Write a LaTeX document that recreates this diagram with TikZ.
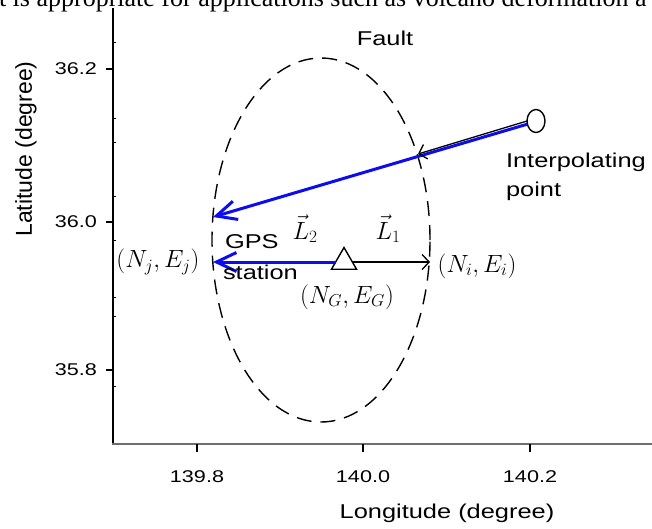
\documentclass[tikz,border=0pt]{standalone}
\usepackage{amsmath,amssymb}
\usepackage{fontspec}
\usepackage{tikz}
\usetikzlibrary{calc,arrows.meta,shapes.geometric}
\newfontfamily\plotsans[FakeStretch=1.27]{Liberation Sans}
\newfontfamily\axissans{Liberation Sans}
\newfontfamily\pageserif{Liberation Serif}
\definecolor{VecBlue}{RGB}{12,12,238}
\definecolor{AxisGray}{RGB}{110,110,110}

\begin{document}
\begin{tikzpicture}[
    x=1pt, y=-1pt,
    every node/.style={inner sep=0pt, outer sep=0pt},
    lbl/.style={font=\fontsize{20}{24}\selectfont\plotsans},
    ticklbl/.style={font=\fontsize{17}{20}\selectfont\plotsans},
    mathlbl/.style={font=\fontsize{25}{30}\selectfont},
    veclbl/.style={font=\fontsize{26}{30}\selectfont},
    faultline/.style={
        draw,
        ellipse,
        line width=1.4pt,
        dash pattern=on 15pt off 9pt,
        minimum width=218pt,
        minimum height=364pt
    },
    station/.style={
        draw,
        regular polygon,
        regular polygon sides=3,
        line width=1.4pt,
        fill=white,
        minimum size=29pt
    },
    target/.style={
        draw,
        ellipse,
        line width=1.4pt,
        fill=white,
        minimum width=18pt,
        minimum height=23pt
    },
    bluevec/.style={draw=VecBlue, line width=3pt, -{Straight Barb[length=20pt,width=19pt]}},
    blackvec/.style={draw=black, line width=1.3pt, -{Straight Barb[length=7pt,width=15pt]}}
]
\useasboundingbox (0,0) rectangle (652,528);
\clip (0,0) rectangle (652,528);

% running text of the page above the figure
\node[font=\fontsize{26}{30}\selectfont\pageserif, anchor=base west] (pagetext) at (-1,6)
    {t is appropriate for applications such as volcano deformation a};

% axes
\draw[line width=2pt] (113,8) -- (113,444);
\draw[AxisGray, line width=1.5pt] (112,444) -- (652,444);
\foreach \x/\lab [count=\i] in {197/139.8, 363/140.0, 530/140.2} {
    \draw[line width=1.2pt] (\x,444) -- (\x,452);
    \node[ticklbl] (xtick\i) at (\x,477) {\lab};
}
\foreach \y/\lab [count=\i] in {69/36.2, 222/36.0, 370/35.8} {
    \draw[line width=1.2pt] (106,\y) -- (113,\y);
    \node[ticklbl, anchor=east] (ytick\i) at (97,\y) {\lab};
}
\foreach \y in {42,118,142,196,240,297,316,386}
    \draw[line width=0.8pt] (113,\y) -- (116,\y);
\node[lbl] (lonlabel) at (447,513) {Longitude (degree)};
\node[font=\fontsize{23}{26}\selectfont\axissans, rotate=90] (latlabel) at (26,149) {Latitude (degree)};

% fault, station and interpolating point
\node[faultline] (fault) at (321,240) {};
\node[lbl, anchor=base] (faultlabel) at (385,45) {Fault};
\node[station] (gps) at (344,262) {};
\node[target] (interp) at (536,121) {};

\coordinate (njup) at (213,217);
\coordinate (cross) at (418,154);
\coordinate (nj) at (213,262);
\coordinate (ni) at (430,262);

\draw[bluevec] (interp.200) -- (njup);
\draw[blackvec] (interp.west) -- (cross);
\draw[bluevec] (gps) -- (nj);
\draw[blackvec] (gps) -- (ni);

% labels
\node[lbl, anchor=base west] (interptext) at (506,167) {Interpolating};
\node[lbl, anchor=base west] (pointtext) at (506,196) {point};
\node[lbl, anchor=base west] (gpstext) at (225,248) {GPS};
\node[lbl, anchor=base west] (stationtext) at (223,279) {station};
\node[mathlbl] (njlabel) at (158,262) {$(N_j,E_j)$};
\node[mathlbl] (nilabel) at (477,266) {$(N_i,E_i)$};
\node[mathlbl] (nglabel) at (347,297) {$(N_G,E_G)$};
\node[veclbl] (ltwo) at (305,229) {$\vec{L}_2$};
\node[veclbl] (lone) at (388,229) {$\vec{L}_1$};

\end{tikzpicture}
\end{document}
